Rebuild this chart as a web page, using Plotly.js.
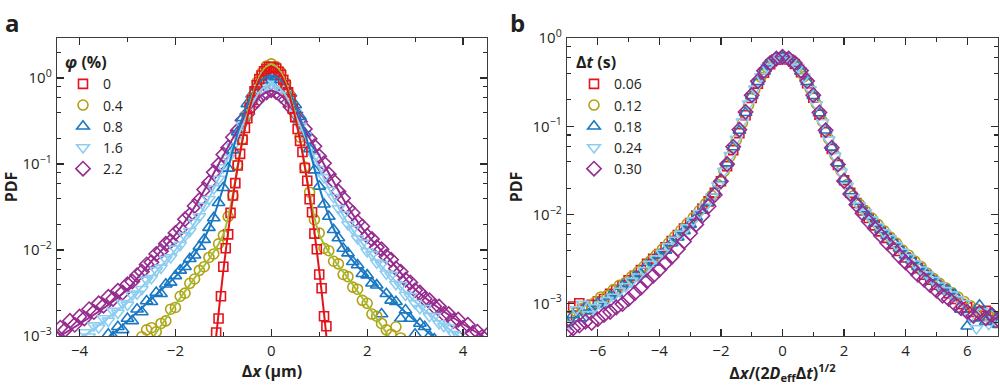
<!DOCTYPE html>
<html>
<head>
<meta charset="utf-8">
<script src="https://cdn.plot.ly/plotly-3.0.1.min.js"></script>
<style>
  html, body { margin: 0; padding: 0; background: #ffffff; }
  #plot { width: 1000px; height: 389px; }
</style>
</head>
<body>
<div id="plot"></div>
<script>
// ---- panel a: displacement PDF for several area fractions ----
const xA = [-4.5,-4.4,-4.3,-4.2,-4.1,-4.0,-3.9,-3.8,-3.7,-3.6,-3.5,-3.4,-3.3,-3.2,-3.1,-3.0,-2.9,-2.8,-2.7,-2.6,
  -2.5,-2.4,-2.3,-2.2,-2.1,-2.0,-1.9,-1.8,-1.7,-1.6,-1.5,-1.4,-1.3,-1.2,-1.1,-1.0,-0.9,-0.8,-0.7,-0.6,
  -0.5,-0.4,-0.3,-0.2,-0.1,0,0.1,0.2,0.3,0.4,0.5,0.6,0.7,0.8,0.9,1.0,1.1,1.2,1.3,1.4,
  1.5,1.6,1.7,1.8,1.9,2.0,2.1,2.2,2.3,2.4,2.5,2.6,2.7,2.8,2.9,3.0,3.1,3.2,3.3,3.4,
  3.5,3.6,3.7,3.8,3.9,4.0,4.1,4.2,4.3,4.4,4.5];

const xRed = [-1.15,-1.1,-1.05,-1.0,-0.95,-0.9,-0.85,-0.8,-0.75,-0.7,-0.65,-0.6,-0.55,-0.5,-0.45,-0.4,
  -0.35,-0.3,-0.25,-0.2,-0.15,-0.1,-0.05,0,0.05,0.1,0.15,0.2,0.25,0.3,0.35,0.4,0.45,0.5,0.55,0.6,
  0.65,0.7,0.75,0.8,0.85,0.9,0.95,1.0,1.05,1.1,1.15];

const pdf0 = [0.0011,0.0016,0.0029,0.0064,0.0105,0.0152,0.027,0.043,0.060,0.096,0.131,0.192,0.262,0.340,
  0.452,0.556,0.70,0.82,0.97,1.07,1.20,1.27,1.34,1.35,1.32,1.29,1.18,1.09,0.95,0.83,0.68,0.57,0.44,0.35,
  0.255,0.186,0.138,0.090,0.064,0.039,0.0275,0.0155,0.0102,0.0052,0.0036,0.0017,0.0013];

const pdf04 = [null,null,null,null,null,null,null,null,null,null,null,null,null,null,null,null,null,null,
  0.00098,0.00118,0.00125,0.00112,0.00140,0.00150,0.00205,0.00215,0.00290,0.00315,0.00410,0.00460,
  0.00580,0.00640,0.00820,0.0090,0.0118,0.0148,0.0245,0.0430,0.098,0.195,0.370,0.59,0.89,1.15,1.38,
  1.46,
  1.36,1.17,0.87,0.61,0.355,0.205,0.092,0.047,0.0225,0.0158,0.0105,0.0098,0.0074,0.0069,0.0052,0.0049,
  0.0037,0.0035,0.0026,0.0024,0.0018,0.0017,0.0014,0.00118,0.00105,0.00128,0.00095,
  null,null,null,null,null,null,null,null,null,null,null,null,null,null,null,null,null,null];

const pdf08 = [null,null,null,null,null,null,null,null,null,null,null,
  0.00105,0.00098,0.00128,0.00118,0.00160,0.00150,0.00205,0.00190,0.00255,0.00250,0.00320,0.00310,
  0.00400,0.00420,0.00500,0.00580,0.00640,0.00790,0.00870,0.0110,0.0132,0.0182,0.0236,0.0355,0.053,
  0.089,0.145,0.236,0.345,0.50,0.645,0.82,0.94,1.05,
  1.08,
  1.03,0.95,0.80,0.66,0.485,0.355,0.228,0.150,0.085,0.055,0.0340,0.0245,0.0172,0.0138,0.0104,0.0092,
  0.0073,0.0067,0.0053,0.0051,0.0041,0.0039,0.0018,0.0031,0.0026,0.0025,0.0016,0.0020,0.0016,0.00105,
  0.00140,0.00128,0.00100,0.00092,
  null,null,null,null,null,null,null,null,null,null,null];

const pdf16 = [null,null,null,null,null,
  0.00085,0.00110,0.00098,0.00132,0.00125,0.00160,0.00150,0.00195,0.00185,0.00240,0.00230,0.00300,
  0.00310,0.00350,0.00450,0.00470,0.00580,0.00620,0.00780,0.00820,0.0103,0.0114,0.0146,0.0165,0.0210,
  0.0245,0.0325,0.0390,0.052,0.067,0.091,0.117,0.160,0.208,0.283,0.377,0.505,0.625,0.745,0.815,
  0.86,
  0.825,0.735,0.635,0.495,0.385,0.276,0.214,0.155,0.121,0.087,0.070,0.0495,0.0410,0.0305,0.0258,0.0198,
  0.0175,0.0136,0.0121,0.0096,0.0089,0.0071,0.0068,0.0053,0.0051,0.0040,0.0039,0.0030,0.0029,0.0024,
  0.0021,0.0021,0.0017,0.0017,0.0014,0.0013,0.00125,0.00105,0.00102,0.00088,
  null,null,null,null,null];

const pdf22 = [0.00095,0.00125,0.00118,0.00150,0.00135,0.00168,0.00160,0.00205,0.00190,0.00240,
  0.00225,0.00285,0.00270,0.00335,0.00320,0.00400,0.00430,0.00510,0.00560,0.00680,0.00720,0.00900,
  0.0097,0.0118,0.0126,0.0158,0.0176,0.0228,0.0255,0.0325,0.0380,0.0505,0.0605,0.080,0.098,0.129,
  0.155,0.205,0.246,0.322,0.382,0.475,0.545,0.635,0.680,
  0.72,
  0.688,0.625,0.556,0.462,0.395,0.310,0.256,0.196,0.161,0.123,0.102,0.076,0.0635,0.0478,0.0400,0.0308,
  0.0270,0.0212,0.0188,0.0146,0.0134,0.0108,0.0102,0.0084,0.0077,0.0061,0.0056,0.0045,0.0042,0.0034,
  0.0032,0.0027,0.0026,0.0022,0.0022,0.0018,0.0018,0.0015,0.00155,0.00125,0.00135,0.00108,0.00112,
  0.00098,0.00102];

// fitted curves, panel a
const xFitRed = [-1.3,-1.2,-1.1,-1.0,-0.9,-0.8,-0.7,-0.6,-0.5,-0.4,-0.3,-0.2,-0.1,0,
  0.1,0.2,0.3,0.4,0.5,0.6,0.7,0.8,0.9,1.0,1.1,1.2,1.3];
const fit0 = [0.00013,0.00052,0.00183,0.00575,0.0162,0.041,0.093,0.189,0.345,0.563,0.826,1.08,1.28,1.35,
  1.28,1.08,0.826,0.563,0.345,0.189,0.093,0.041,0.0162,0.00575,0.00183,0.00052,0.00013];

const xFit = [-4.5,-4.0,-3.5,-3.0,-2.5,-2.0,-1.6,-1.3,-1.0,-0.8,-0.6,-0.4,-0.2,0,
  0.2,0.4,0.6,0.8,1.0,1.3,1.6,2.0,2.5,3.0,3.5,4.0,4.5];
const fit04 = [0.000022,0.000056,0.00014,0.00036,0.00091,0.0023,0.0047,0.0078,0.0151,0.045,0.20,0.60,1.16,1.45,
  1.16,0.60,0.20,0.045,0.0151,0.0078,0.0047,0.0023,0.00091,0.00036,0.00014,0.000056,0.000022];
const fit08 = [0.00027,0.00048,0.00085,0.0015,0.0027,0.0049,0.0089,0.0178,0.054,0.147,0.35,0.652,0.946,1.07,
  0.946,0.652,0.35,0.147,0.054,0.0178,0.0089,0.0049,0.0027,0.0015,0.00085,0.00048,0.00027];
const fit16 = [0.00058,0.00091,0.00147,0.0025,0.0049,0.0100,0.0204,0.040,0.089,0.158,0.28,0.50,0.74,0.85,
  0.74,0.50,0.28,0.158,0.089,0.040,0.0204,0.0100,0.0049,0.0025,0.00147,0.00091,0.00058];
const fit22 = [0.00093,0.00138,0.0021,0.0035,0.0074,0.0151,0.0316,0.062,0.126,0.2,0.316,0.468,0.63,0.71,
  0.63,0.468,0.316,0.2,0.126,0.062,0.0316,0.0151,0.0074,0.0035,0.0021,0.00138,0.00093];

// ---- panel b: scaled PDF for several lag times ----
const xB1 = [-7.0,-6.8,-6.6,-6.4,-6.2,-6.0,-5.8,-5.6,-5.4,-5.2,-5.0,-4.8,-4.6,-4.4,-4.2,-4.0,-3.8,-3.6,
  -3.4,-3.2,-3.0,-2.8,-2.6,-2.4,-2.2,-2.0,-1.8,-1.6,-1.4,-1.2,-1.0,-0.8,-0.6,-0.4,-0.2,0,
  0.2,0.4,0.6,0.8,1.0,1.2,1.4,1.6,1.8,2.0,2.2,2.4,2.6,2.8,3.0,3.2,3.4,3.6,3.8,4.0,4.2,4.4,4.6,4.8,
  5.0,5.2,5.4,5.6,5.8,6.0,6.2,6.4,6.6,6.8,7.0];
const xB2 = [-6.9,-6.7,-6.5,-6.3,-6.1,-5.9,-5.7,-5.5,-5.3,-5.1,-4.9,-4.7,-4.5,-4.3,-4.1,-3.9,-3.7,-3.5,
  -3.3,-3.1,-2.9,-2.7,-2.5,-2.3,-2.1,-1.9,-1.7,-1.5,-1.3,-1.1,-0.9,-0.7,-0.5,-0.3,-0.1,
  0.1,0.3,0.5,0.7,0.9,1.1,1.3,1.5,1.7,1.9,2.1,2.3,2.5,2.7,2.9,3.1,3.3,3.5,3.7,3.9,4.1,4.3,4.5,4.7,4.9,
  5.1,5.3,5.5,5.7,5.9,6.1,6.3,6.5,6.7,6.9];

const pdfT006 = [0.00070,0.00092,0.00100,0.00085,0.00096,0.00105,0.00112,0.00128,0.00142,0.00160,
  0.00182,0.00205,0.00238,0.00280,0.00318,0.00360,0.00430,0.00505,0.00590,0.00700,0.00810,0.0098,
  0.0118,0.0142,0.0178,0.0240,0.0355,0.0540,0.0840,0.134,0.210,0.305,0.405,0.505,0.570,
  0.600,
  0.572,0.508,0.410,0.308,0.212,0.136,0.0860,0.0555,0.0368,0.0246,0.0178,0.0136,0.0112,0.0092,0.0076,
  0.0065,0.0055,0.0047,0.0039,0.0033,0.0029,0.0025,0.0021,0.00185,0.00162,0.00145,0.00130,0.00112,
  0.00098,0.00090,0.00080,0.00072,0.00082,0.00065,0.00060];

const pdfT012 = [0.00072,0.00080,0.00088,0.00086,0.00102,0.00118,0.00122,0.00142,0.00160,0.00172,
  0.00200,0.00225,0.00262,0.00300,0.00352,0.00410,0.00480,0.00570,0.00670,0.00790,0.0093,0.0112,
  0.0134,0.0165,0.0220,0.0310,0.0460,0.0700,0.110,0.175,0.260,0.360,0.465,0.548,0.595,
  0.597,0.552,0.470,0.366,0.265,0.180,0.114,0.0725,0.0475,0.0315,0.0220,0.0164,0.0132,0.0110,0.0092,
  0.0078,0.0066,0.0056,0.0048,0.0040,0.0035,0.0030,0.0026,0.0022,0.00192,0.00168,0.00150,0.00132,
  0.00118,0.00105,0.00094,0.00086,0.00078,0.00072,0.00068];

const pdfT018 = [0.00060,0.00074,0.00068,0.00090,0.00082,0.00100,0.00098,0.00120,0.00130,0.00158,
  0.00165,0.00200,0.00215,0.00270,0.00290,0.00352,0.00395,0.00480,0.00560,0.00660,0.00780,0.0094,
  0.0112,0.0138,0.0184,0.0252,0.0385,0.0585,0.0900,0.143,0.222,0.320,0.420,0.518,0.580,
  0.608,
  0.578,0.515,0.420,0.320,0.222,0.142,0.0905,0.0580,0.0385,0.0255,0.0186,0.0142,0.0116,0.0096,0.0080,
  0.0068,0.0058,0.0050,0.0042,0.0035,0.0031,0.0026,0.0023,0.0020,0.00175,0.00150,0.00138,0.00125,
  0.00085,0.00055,0.00068,0.00095,0.00062,0.00075,0.00058];

const pdfT024 = [0.00058,0.00085,0.00098,0.00075,0.00090,0.00096,0.00108,0.00118,0.00138,0.00155,
  0.00178,0.00200,0.00235,0.00278,0.00320,0.00370,0.00440,0.00520,0.00610,0.00720,0.0086,0.0104,
  0.0125,0.0160,0.0216,0.0312,0.0472,0.0722,0.113,0.180,0.266,0.366,0.470,0.552,0.598,
  0.600,0.553,0.468,0.362,0.262,0.177,0.111,0.0710,0.0465,0.0306,0.0212,0.0157,0.0127,0.0106,0.0088,
  0.0074,0.0063,0.0054,0.0045,0.0038,0.0033,0.0028,0.0024,0.0021,0.00182,0.00158,0.00140,0.00125,
  0.00110,0.00100,0.00070,0.00052,0.00080,0.00058,0.00066];

const pdfT030 = [0.00048,0.00052,0.00056,0.00062,0.00060,0.00066,0.00074,0.00080,0.00090,0.00098,
  0.00112,0.00130,0.00150,0.00178,0.00205,0.00240,0.00285,0.00335,0.00410,0.00500,0.00620,0.0078,
  0.0098,0.0125,0.0168,0.0240,0.0375,0.0590,0.0920,0.146,0.226,0.325,0.425,0.520,0.585,
  0.612,
  0.585,0.522,0.428,0.326,0.226,0.144,0.0905,0.0575,0.0372,0.0242,0.0172,0.0130,0.0104,0.0084,0.0070,
  0.0058,0.0048,0.0041,0.0034,0.0029,0.0025,0.0021,0.00185,0.00160,0.00140,0.00122,0.00112,0.00098,
  0.00088,0.00080,0.00072,0.00078,0.00068,0.00074,0.00066];

const phiLabels = ['0', '0.4', '0.8', '1.6', '2.2'];
const dtLabels = ['0.06', '0.12', '0.18', '0.24', '0.30'];

const yTickVals = [0.001, 0.01, 0.1, 1];
const yTickText = ['10<sup>\u22123</sup>', '10<sup>\u22122</sup>', '10<sup>\u22121</sup>', '10<sup>0</sup>'];

// ---- styling ----
const COLORS = {
  red: '#e4141c', olive: '#b3a012', blue: '#1a78c2', light: '#8dcdf0', purple: '#962a8e',
  oliveLine: '#a2c035'
};
const FONT = 'Open Sans, Noto Sans, Arial, sans-serif';
const INK = '#231f20';

const SERIES = [
  { key: 'red', symbol: 'square-open', size: 9 },
  { key: 'olive', symbol: 'circle-open', size: 10 },
  { key: 'blue', symbol: 'triangle-up-open', size: 11 },
  { key: 'light', symbol: 'triangle-down-open', size: 11 },
  { key: 'purple', symbol: 'diamond-open', size: 11 }
];

function markerTrace(x, y, i, name, xa, ya, legend) {
  const s = SERIES[i];
  return {
    x, y, type: 'scatter', mode: 'markers', name,
    xaxis: xa, yaxis: ya, legend, legendrank: i + 1,
    marker: { symbol: s.symbol, size: s.size, color: COLORS[s.key],
      line: { color: COLORS[s.key], width: 1.6 } },
    hoverinfo: 'skip'
  };
}

function fitTrace(x, y, color) {
  return {
    x, y, type: 'scatter', mode: 'lines', showlegend: false,
    xaxis: 'x', yaxis: 'y',
    line: { color, width: 2, shape: 'spline', smoothing: 0.8 },
    hoverinfo: 'skip'
  };
}

const aData = [pdf0, pdf04, pdf08, pdf16, pdf22];
const bData = [pdfT006, pdfT012, pdfT018, pdfT024, pdfT030];
const bX = [xB1, xB2, xB1, xB2, xB1];

const traces = [];
// panel a: draw widest first so narrow distributions sit on top
for (let i = 4; i >= 0; i--) {
  traces.push(markerTrace(i === 0 ? xRed : xA, aData[i], i, phiLabels[i], 'x', 'y', 'legend'));
}
traces.push(fitTrace(xFit, fit22, COLORS.purple));
traces.push(fitTrace(xFit, fit16, COLORS.light));
traces.push(fitTrace(xFit, fit08, COLORS.blue));
traces.push(fitTrace(xFit, fit04, COLORS.oliveLine));
traces.push(fitTrace(xFitRed, fit0, COLORS.red));
// panel b
for (let i = 0; i < 5; i++) {
  traces.push(markerTrace(bX[i], bData[i], i, dtLabels[i], 'x2', 'y2', 'legend2'));
}

function axisBase(extra) {
  return Object.assign({
    showline: true, linecolor: '#3c3c3c', linewidth: 1.3, mirror: 'ticks',
    ticks: 'inside', ticklen: 7, tickwidth: 1.2, tickcolor: '#2a2a2a',
    showgrid: false, zeroline: false, fixedrange: true,
    tickfont: { family: FONT, size: 15, color: INK },
    ticklabelstandoff: 1
  }, extra);
}

const minorA = [0.002,0.004,0.006,0.008,0.02,0.04,0.06,0.08,0.2,0.4,0.6,0.8,2];
const minorB = [0.0006,0.0008,0.002,0.004,0.006,0.008,0.02,0.04,0.06,0.08,0.2,0.4,0.6,0.8];
const minorStyle = { ticks: 'inside', ticklen: 4, tickwidth: 1.1, tickcolor: '#2a2a2a', showgrid: false };

const titleFont = { family: FONT, size: 16, color: INK };
const legendFont = { family: FONT, size: 14, color: INK };

const layout = {
  width: 1000, height: 389,
  margin: { l: 0, r: 0, t: 0, b: 0 },
  paper_bgcolor: '#ffffff', plot_bgcolor: '#ffffff',
  font: { family: FONT, color: INK },
  showlegend: true,
  xaxis: axisBase({
    domain: [0.057, 0.487], range: [-4.47, 4.5], anchor: 'y',
    tickvals: [-4, -2, 0, 2, 4],
    minor: Object.assign({ tickvals: [-3, -1, 1, 3] }, minorStyle),
    title: { text: '<b>\u0394<i>x</i> (\u03bcm)</b>', font: titleFont, standoff: 4 }
  }),
  yaxis: axisBase({
    domain: [0.1362, 0.9023], type: 'log', range: [-3, 0.465], anchor: 'x',
    tickvals: yTickVals, ticktext: yTickText,
    minor: Object.assign({ tickvals: minorA }, minorStyle),
    title: { text: '<b>PDF</b>', font: titleFont, standoff: 6 }
  }),
  xaxis2: axisBase({
    domain: [0.567, 0.998], range: [-7, 7], anchor: 'y2',
    tickvals: [-6, -4, -2, 0, 2, 4, 6],
    minor: Object.assign({ tickvals: [-5, -3, -1, 1, 3, 5] }, minorStyle),
    title: { text: '<b>\u0394<i>x</i>/(2<i>D</i><sub>eff</sub>\u0394<i>t</i>)<sup>1/2</sup></b>', font: titleFont, standoff: 4 }
  }),
  yaxis2: axisBase({
    domain: [0.1362, 0.9023], type: 'log', range: [-3.37, 0], anchor: 'x2',
    tickvals: yTickVals, ticktext: yTickText,
    minor: Object.assign({ tickvals: minorB }, minorStyle),
    title: { text: '<b>PDF</b>', font: titleFont, standoff: 6 }
  }),
  legend: {
    x: 0.063, y: 0.878, xanchor: 'left', yanchor: 'top',
    bgcolor: 'rgba(0,0,0,0)', borderwidth: 0, itemwidth: 30,
    font: legendFont,
    title: { text: '<b><i>\u03c6</i> (%)</b>', font: titleFont }
  },
  legend2: {
    x: 0.574, y: 0.878, xanchor: 'left', yanchor: 'top',
    bgcolor: 'rgba(0,0,0,0)', borderwidth: 0, itemwidth: 30,
    font: legendFont,
    title: { text: '<b>\u0394<i>t</i> (s)</b>', font: titleFont }
  },
  annotations: [
    { text: '<b>a</b>', xref: 'paper', yref: 'paper', x: 0.003, y: 0.99, xanchor: 'left', yanchor: 'top',
      showarrow: false, font: { family: FONT, size: 24, color: INK } },
    { text: '<b>b</b>', xref: 'paper', yref: 'paper', x: 0.508, y: 0.99, xanchor: 'left', yanchor: 'top',
      showarrow: false, font: { family: FONT, size: 24, color: INK } }
  ]
};

Plotly.newPlot('plot', traces, layout, { displayModeBar: false, staticPlot: true });
</script>
</body>
</html>
